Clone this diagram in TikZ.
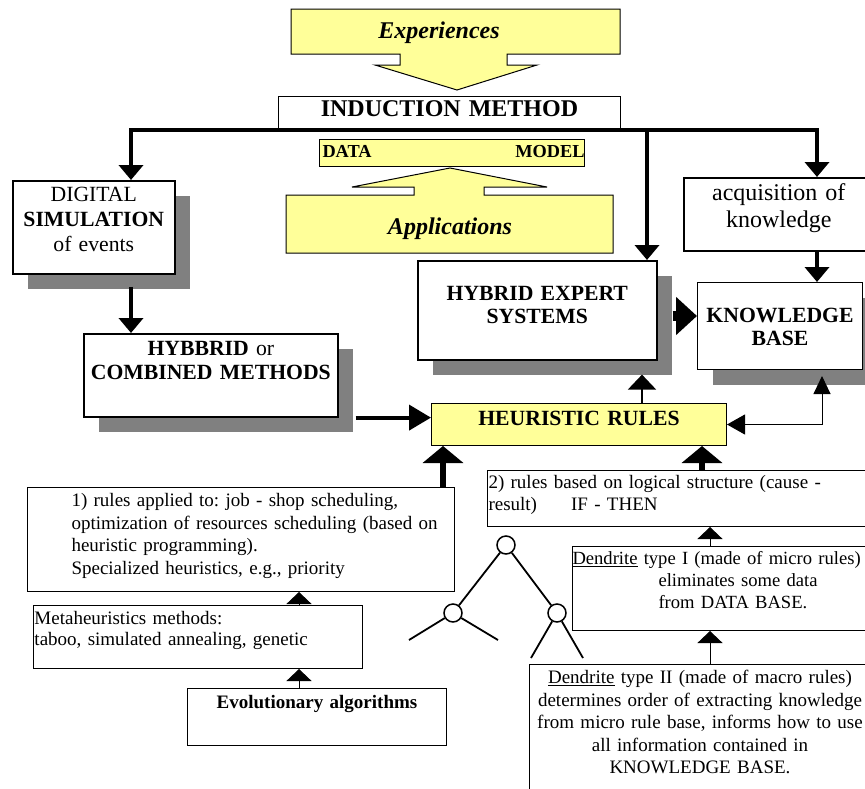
\documentclass[tikz,border=0pt]{standalone}
\usepackage{fontspec}
\setmainfont{Liberation Serif}
\usepackage{tikz}
\usetikzlibrary{positioning, arrows.meta, shadows}

\definecolor{paleyellow}{HTML}{FFFF99}
\definecolor{shadowgray}{HTML}{808080}

\newcommand{\fbody}{\fontsize{19}{22.5}\selectfont}
\newcommand{\fmid}{\fontsize{21.7}{24}\selectfont}
\newcommand{\fbig}{\fontsize{24}{27}\selectfont}

\begin{document}
\frenchspacing
\begin{tikzpicture}[
    x=1pt, y=-1pt,
    box/.style={draw, fill=white, line width=1pt, anchor=north west,
        inner xsep=0pt, inner ysep=0pt, align=center},
    heavy/.style={box, line width=1.6pt},
    shade/.style={drop shadow={shadow xshift=15pt, shadow yshift=-15pt,
        fill=shadowgray, opacity=1}},
    callout/.style={draw, line width=1pt, fill=paleyellow},
    bigarrow/.style={line width=4pt, -{Triangle[width=24pt,length=15pt]}},
    fatarrow/.style={line width=6pt, -{Triangle[width=40pt,length=17pt]}},
    slimarrow/.style={line width=1pt, -{Triangle[width=25pt,length=12pt]}},
    leaf/.style={circle, draw, line width=1.5pt, minimum size=18pt,
        inner sep=0pt, fill=white},
    limb/.style={line width=1.8pt}
]

\useasboundingbox (0,0) rectangle (865,788);

% ---- Top: experiences and induction ----

% Experiences arrow
\draw[callout] (291,9) -- (620,9) -- (620,54) -- (507,54) -- (507,65)
    -- (537,65) -- (457,90) -- (375,65) -- (400,65) -- (400,54)
    -- (291,54) -- cycle;
\node[anchor=base, font=\fbig\bfseries\itshape] (exp) at (439,38) {Experiences};

% Induction method
\node[box, text width=342pt, text height=20pt, text depth=14pt,
    font=\fbig\bfseries] (ind) at (278,96) {INDUCTION METHOD};

% Data / model
\node[box, fill=paleyellow, align=left, text width=265pt, text height=18pt,
    text depth=9pt, font=\fontsize{18.3}{21}\selectfont\bfseries] (data)
    at (319,139) {\hspace*{3pt}DATA\hfill MODEL\hspace*{19pt}};

% Applications arrow
\draw[callout] (286,253) -- (286,195) -- (414,195) -- (414,187)
    -- (352,187) -- (450,168) -- (547,187) -- (484,187) -- (484,195)
    -- (613,195) -- (613,253) -- cycle;
\node[anchor=base, font=\fbig\bfseries\itshape] (app) at (450,234) {Applications};

% ---- Middle boxes ----

\node[heavy, shade, text width=162pt, text height=21pt, text depth=72pt,
    font=\fontsize{21.7}{25}\selectfont] (sim) at (12,180)
    {DIGITAL\\\textbf{SIMULATION}\\of events};

\node[heavy, shade, text width=254pt, text height=22pt, text depth=61pt,
    font=\fmid] (hyb) at (83,333)
    {\textbf{HYBBRID} or\\\textbf{COMBINED METHODS}};

\node[heavy, shade, text width=239pt, text height=40pt, text depth=59pt,
    font=\fontsize{21.7}{23}\selectfont\bfseries] (hes) at (417,260)
    {HYBRID EXPERT\\SYSTEMS};

\node[box, shade, text width=165pt, text height=40pt, text depth=47pt,
    font=\fontsize{21.7}{23}\selectfont\bfseries] (kb) at (697,282)
    {KNOWLEDGE\\BASE};

\node[heavy, text width=190pt, text height=23pt, text depth=50pt,
    font=\fbig] (acq) at (683,177) {acquisition of\\knowledge};

\node[box, fill=paleyellow, text width=295pt, text height=22pt,
    text depth=20pt, font=\fmid\bfseries] (hr) at (431,403) {HEURISTIC RULES};

% ---- Lower left ----

\node[box, align=left, text width=427pt, text height=19pt, text depth=85pt,
    font=\fbody] (r1) at (27,487)
    {\hspace*{44pt}1) rules applied to: job - shop scheduling,\\
     \hspace*{44pt}optimization of resources scheduling (based on\\
     \hspace*{44pt}heuristic programming).\\
     \hspace*{44pt}Specialized heuristics, e.g., priority};

\node[box, align=left, text width=329pt, text height=19pt, text depth=44pt,
    font=\fontsize{19}{21}\selectfont] (meta) at (33,605)
    {\hspace*{1pt}Metaheuristics methods:\\
     \hspace*{1pt}taboo, simulated annealing, genetic};

\node[box, text width=259pt, text height=20pt, text depth=37pt,
    font=\fbody\bfseries] (evol) at (187,688) {Evolutionary algorithms};

% ---- Lower right ----

\node[box, align=left, text width=385pt, text height=18pt, text depth=38pt,
    font=\fontsize{19}{22}\selectfont] (r2) at (487,470)
    {\hspace*{1pt}2) rules based on logical structure (cause -\\
     \hspace*{1pt}result)\hspace{34pt}IF - THEN};

\node[box, align=left, text width=330pt, text height=18pt, text depth=66pt,
    font=\fontsize{18.6}{22}\selectfont] (d1) at (572,546)
    {\underline{Dendrite} type I (made of micro rules)\\
     \hspace*{86pt}eliminates some data\\
     \hspace*{86pt}from DATA BASE.};

\node[box, text width=341pt, text height=19pt, text depth=121pt,
    font=\fbody] (d2) at (529,664)
    {\underline{Dendrite} type II (made of macro rules)\\
     determines order of extracting knowledge\\
     from micro rule base, informs how to use\\
     all information contained in\\
     KNOWLEDGE BASE.};

% ---- Tree ----
\node[leaf] (t0) at (506,545) {};
\node[leaf] (t1) at (453,613) {};
\node[leaf] (t2) at (557,613) {};
\coordinate (l1) at (409,640);
\coordinate (l2) at (498,640);
\coordinate (l3) at (531,658);
\coordinate (l4) at (583,658);
\draw[limb] (t0) -- (t1);
\draw[limb] (t0) -- (t2);
\draw[limb] (t1) -- (l1);
\draw[limb] (t1) -- (l2);
\draw[limb] (t2) -- (l3);
\draw[limb] (t2) -- (l4);

% ---- Connectors ----

% bus under induction method
\coordinate (b1) at (131,130);
\coordinate (b2) at (647,130);
\coordinate (b3) at (817,130);
\draw[bigarrow, line join=miter] (b2) -| (b1 |- sim.north);
\draw[bigarrow, line join=miter] (b2) -| (b3 |- acq.north);
\draw[bigarrow] (b2) -- (b2 |- hes.north);

\draw[bigarrow] (b3 |- acq.south) -- (b3 |- kb.north);
\draw[bigarrow, shorten <=12pt] (b1 |- sim.south) -- (b1 |- hyb.north);
\draw[line width=4pt, -{Triangle[width=25pt,length=22pt]}, shorten <=17pt]
    (hyb.south east) -- (hyb.south east -| hr.west);

\coordinate (hk) at (680,316);
\draw[line width=10pt, -{Triangle[width=37pt,length=21pt]}, shorten <=15pt]
    (hk -| hes.east) -- (hk -| kb.west);

\coordinate (hx) at (642,380);
\draw[line width=2pt, -{Triangle[width=28pt,length=15pt]}, shorten >=14pt]
    (hx |- hr.north) -- (hx |- hes.south);

\coordinate (kx) at (822,376);
\draw[line width=1pt, {Triangle[width=20pt,length=18pt]}-{Triangle[width=17pt,length=18pt]}]
    (hr.east) -| (kx);

\coordinate (r1x) at (443,470);
\coordinate (r2x) at (702,460);
\draw[fatarrow] (r1x |- r1.north) -- (r1x |- hr.south);
\draw[fatarrow] (r2x |- r2.north) -- (r2x |- hr.south);

\coordinate (mx) at (299,600);
\draw[slimarrow] (mx |- meta.north) -- (mx |- r1.south);
\draw[slimarrow] (mx |- evol.north) -- (mx |- meta.south);

\coordinate (dx) at (710,600);
\draw[slimarrow] (dx |- d1.north) -- (dx |- r2.south);
\draw[slimarrow] (dx |- d2.north) -- (dx |- d1.south);

\end{tikzpicture}
\end{document}
